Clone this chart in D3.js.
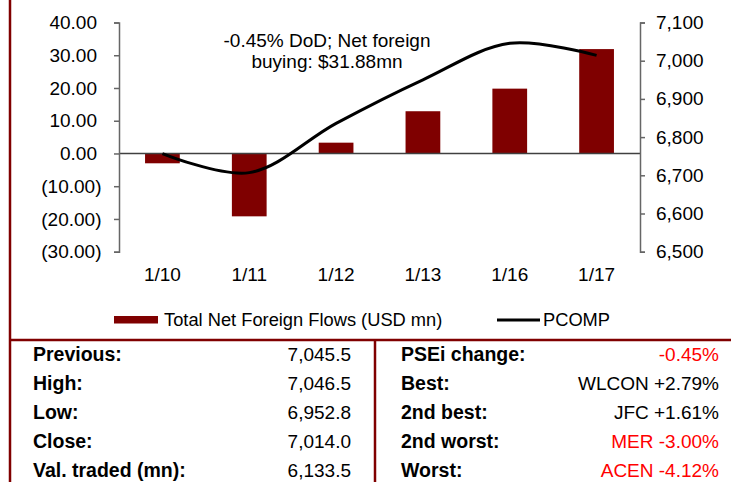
<!DOCTYPE html>
<html>
<head>
<meta charset="utf-8">
<script src="https://cdn.jsdelivr.net/npm/d3@7"></script>
<style>
body { margin: 0; background: #fff; }
svg { display: block; font-family: "Liberation Sans", Arial, sans-serif; }
</style>
</head>
<body>
<script>
// Data
var dates = ["1/10", "1/11", "1/12", "1/13", "1/16", "1/17"];
var flows = [-3.0, -19.2, 3.3, 12.9, 19.8, 31.88];
var pcomp = [6757, 6707, 6836, 6950, 7045.5, 7014];
var leftTicks = [-30, -20, -10, 0, 10, 20, 30, 40];
var rightTicks = [6500, 6600, 6700, 6800, 6900, 7000, 7100];
var noteLines = ["-0.45% DoD; Net foreign", "buying: $31.88mn"];

var statLabels = ["Previous:", "High:", "Low:", "Close:", "Val. traded (mn):"];
var statValues = ["7,045.5", "7,046.5", "6,952.8", "7,014.0", "6,133.5"];
var moveLabels = ["PSEi change:", "Best:", "2nd best:", "2nd worst:", "Worst:"];
var moveValues = ["-0.45%", "WLCON +2.79%", "JFC +1.61%", "MER -3.00%", "ACEN -4.12%"];
var moveUp = [false, true, true, false, false];

var width = 731, height = 482;
var barColor = "#7f0000";
var frameColor = "#800000";
var fontSize = "19px";

var svg = d3.select("body")
        .append("svg")
        .attr("width", width)
        .attr("height", height);

// scales
var x = d3.scaleBand().domain(dates).range([119, 640]).paddingInner(0.6).paddingOuter(0.3);
var yL = d3.scaleLinear().domain([-30, 40]).range([251.7, 22.5]);
var yR = d3.scaleLinear().domain([6500, 7100]).range([251.7, 22.5]);

// bars
svg.selectAll("rect.bar")
        .data(flows)
        .enter()
        .append("rect")
        .attr("class", "bar")
        .attr("x", function(d, i) { return x(dates[i]); })
        .attr("width", x.bandwidth())
        .attr("y", function(d) { return d > 0 ? yL(d) : yL(0); })
        .attr("height", function(d) { return Math.abs(yL(d) - yL(0)); })
        .attr("fill", barColor);

// zero line
svg.append("line")
        .attr("x1", 119).attr("x2", 640)
        .attr("y1", yL(0)).attr("y2", yL(0))
        .attr("stroke", "#404040")
        .attr("stroke-width", 1.5);

// left axis
var fmt = d3.format(".2f");
var gL = svg.append("g")
        .attr("transform", "translate(119,0)")
        .call(d3.axisLeft(yL).tickValues(leftTicks).tickSize(5).tickPadding(17)
            .tickFormat(function(d) { return d < 0 ? "(" + fmt(-d) + ")" : fmt(d); }));
gL.selectAll("text")
        .attr("x", function(d) { return d < 0 ? -17.5 : -22; });

// right axis
var gR = svg.append("g")
        .attr("transform", "translate(640,0)")
        .call(d3.axisRight(yR).tickValues(rightTicks).tickSize(5).tickPadding(11)
            .tickFormat(d3.format(",")));

[gL, gR].forEach(function(g) {
    g.select(".domain").attr("stroke", "#666").attr("stroke-width", 1.5);
    g.selectAll(".tick line").attr("stroke", "#666").attr("stroke-width", 1.5);
    g.selectAll("text")
        .attr("font-family", "'Liberation Sans', Arial, sans-serif")
        .attr("font-size", fontSize)
        .attr("fill", "#000");
});

// category labels
svg.selectAll("text.cat")
        .data(dates)
        .enter()
        .append("text")
        .attr("class", "cat")
        .attr("x", function(d) { return x(d) + x.bandwidth() / 2; })
        .attr("y", 281)
        .attr("text-anchor", "middle")
        .attr("font-size", fontSize)
        .text(function(d) { return d; });

// PCOMP line
var line = d3.line()
        .x(function(d, i) { return x(dates[i]) + x.bandwidth() / 2; })
        .y(function(d) { return yR(d); })
        .curve(d3.curveCatmullRom.alpha(0.5));

svg.append("path")
        .datum(pcomp)
        .attr("d", line)
        .attr("fill", "none")
        .attr("stroke", "#000")
        .attr("stroke-width", 3);

// annotation
svg.selectAll("text.note")
        .data(noteLines)
        .enter()
        .append("text")
        .attr("class", "note")
        .attr("x", 327)
        .attr("y", function(d, i) { return 47 + i * 20.5; })
        .attr("text-anchor", "middle")
        .attr("font-size", fontSize)
        .text(function(d) { return d; });

// legend
svg.append("rect")
        .attr("x", 114).attr("y", 316)
        .attr("width", 44).attr("height", 7.5)
        .attr("fill", barColor);
svg.append("text")
        .attr("x", 164).attr("y", 326)
        .attr("font-size", "18.3px")
        .text("Total Net Foreign Flows (USD mn)");
svg.append("line")
        .attr("x1", 497).attr("x2", 540)
        .attr("y1", 320).attr("y2", 320)
        .attr("stroke", "#000").attr("stroke-width", 3);
svg.append("text")
        .attr("x", 543).attr("y", 326)
        .attr("font-size", "18.3px")
        .text("PCOMP");

// frame lines
svg.append("line")
        .attr("x1", 10).attr("x2", 10)
        .attr("y1", 0).attr("y2", height)
        .attr("stroke", frameColor).attr("stroke-width", 2.5);
svg.append("line")
        .attr("x1", 9).attr("x2", width)
        .attr("y1", 340).attr("y2", 340)
        .attr("stroke", frameColor).attr("stroke-width", 2.5);
svg.append("line")
        .attr("x1", 375).attr("x2", 375)
        .attr("y1", 340).attr("y2", height)
        .attr("stroke", frameColor).attr("stroke-width", 2.5);

// table
var rowY = function(d, i) { return 361 + i * 29; };

svg.selectAll("text.slabel")
        .data(statLabels)
        .enter()
        .append("text")
        .attr("x", 33).attr("y", rowY)
        .attr("font-size", "19.5px").attr("font-weight", "bold")
        .text(function(d) { return d; });
svg.selectAll("text.svalue")
        .data(statValues)
        .enter()
        .append("text")
        .attr("x", 351).attr("y", rowY)
        .attr("text-anchor", "end")
        .attr("font-size", fontSize)
        .text(function(d) { return d; });
svg.selectAll("text.mlabel")
        .data(moveLabels)
        .enter()
        .append("text")
        .attr("x", 401).attr("y", rowY)
        .attr("font-size", "19.5px").attr("font-weight", "bold")
        .text(function(d) { return d; });
svg.selectAll("text.mvalue")
        .data(moveValues)
        .enter()
        .append("text")
        .attr("x", 719).attr("y", rowY)
        .attr("text-anchor", "end")
        .attr("font-size", fontSize)
        .attr("fill", function(d, i) { return moveUp[i] ? "#000" : "#ff0000"; })
        .text(function(d) { return d; });
</script>
</body>
</html>
